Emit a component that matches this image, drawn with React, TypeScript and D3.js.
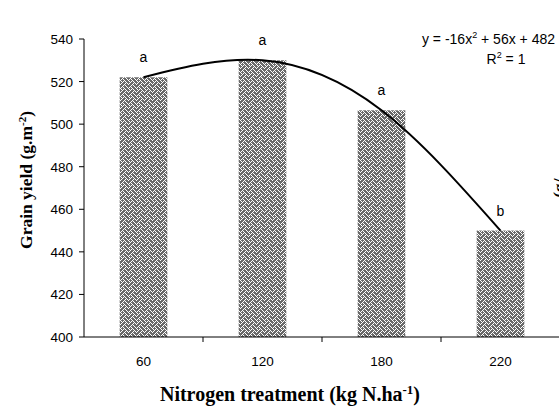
import React from "react";
import * as d3 from "d3";

const categories = ["60", "120", "180", "220"];
const grainYield = [522, 530, 506.5, 450];
const groupLetters = ["a", "a", "a", "b"];
const yTicks = [400, 420, 440, 460, 480, 500, 520, 540];

// weave hatch, 8x8 bits (1 = white stroke)
const weaveRows = [0x88, 0x54, 0x22, 0x45, 0x88, 0x14, 0x22, 0x51];

const W = 559;
const H = 406;
const left = 84;
const right = 560;
const top = 39;
const bottom = 337;

const App = () => {
  const x = d3
    .scaleBand()
    .domain(categories)
    .range([left, right])
    .paddingInner(0.6)
    .paddingOuter(0.3);

  const y = d3.scaleLinear().domain([400, 540]).range([bottom, top]);

  const cx = (c) => x(c) + x.bandwidth() / 2;
  const boundaries = categories.map((_, i) => left + i * x.step()).slice(1);

  const trend = d3
    .line()
    .x((d, i) => cx(categories[i]))
    .y((d) => y(d))
    .curve(d3.curveNatural)(grainYield);

  const weavePixels = [];
  weaveRows.forEach((row, r) => {
    for (let c = 0; c < 8; c++) {
      if (row & (0x80 >> c)) weavePixels.push([c, r]);
    }
  });

  const sans = "'Liberation Sans', Arial, sans-serif";
  const serif = "'Liberation Serif', 'Times New Roman', serif";

  return (
    <svg
      width={W}
      height={H}
      style={{ position: "absolute", left: 0, top: 0, background: "#fff" }}
    >
      <defs>
        <pattern id="weave" width={8} height={8} patternUnits="userSpaceOnUse">
          <rect width={8} height={8} fill="#6a6a6a" />
          {weavePixels.map(([c, r], i) => (
            <rect key={i} x={c} y={r} width={1} height={1} fill="#fff" />
          ))}
        </pattern>
      </defs>

      {grainYield.map((v, i) => (
        <rect
          key={i}
          x={x(categories[i])}
          y={y(v)}
          width={x.bandwidth()}
          height={bottom - y(v)}
          fill="url(#weave)"
        />
      ))}

      <path d={trend} fill="none" stroke="#000" strokeWidth={2} />

      {/* y axis */}
      <line x1={left} x2={left} y1={top} y2={bottom} stroke="#000" />
      {yTicks.map((t) => (
        <g key={t}>
          <line x1={left - 5} x2={left} y1={y(t)} y2={y(t)} stroke="#000" />
          <text
            x={left - 11}
            y={y(t) + 5}
            textAnchor="end"
            fontSize={13.5}
            fontFamily={sans}
          >
            {t}
          </text>
        </g>
      ))}

      {/* x axis */}
      <line x1={left} x2={right} y1={bottom} y2={bottom} stroke="#000" />
      {boundaries.map((b, i) => (
        <line key={i} x1={b} x2={b} y1={bottom} y2={bottom + 5} stroke="#000" />
      ))}
      {categories.map((c) => (
        <text
          key={c}
          x={cx(c)}
          y={366}
          textAnchor="middle"
          fontSize={13.5}
          fontFamily={sans}
        >
          {c}
        </text>
      ))}

      {grainYield.map((v, i) => (
        <text
          key={i}
          x={cx(categories[i])}
          y={y(v) - 15}
          textAnchor="middle"
          fontSize={14}
          fontFamily={sans}
        >
          {groupLetters[i]}
        </text>
      ))}

      <text x={555} y={44} textAnchor="end" fontSize={14} fontFamily={sans}>
        y = -16x<tspan dy={-6} fontSize={9}>2</tspan>
        <tspan dy={6}> + 56x + 482</tspan>
      </text>
      <text x={506} y={64} textAnchor="middle" fontSize={14} fontFamily={sans}>
        R<tspan dy={-6} fontSize={9}>2</tspan>
        <tspan dy={6}> = 1</tspan>
      </text>

      <text
        transform="translate(32,180) rotate(-90)"
        textAnchor="middle"
        fontSize={17.5}
        fontWeight="bold"
        fontFamily={serif}
      >
        Grain yield (g.m<tspan dy={-6} fontSize={11}>-2</tspan>
        <tspan dy={6}>)</tspan>
      </text>

      <text
        x={290}
        y={401}
        textAnchor="middle"
        fontSize={20}
        fontWeight="bold"
        fontFamily={serif}
      >
        Nitrogen treatment (kg N.ha<tspan dy={-7} fontSize={13}>-1</tspan>
        <tspan dy={7}>)</tspan>
      </text>

      {/* cut-off label of a neighbouring chart at the right edge */}
      <text
        transform="translate(565,188) rotate(-90)"
        textAnchor="middle"
        fontSize={17.5}
        fontWeight="bold"
        fontFamily={serif}
      >
        (g/
      </text>
    </svg>
  );
};

export default App;
